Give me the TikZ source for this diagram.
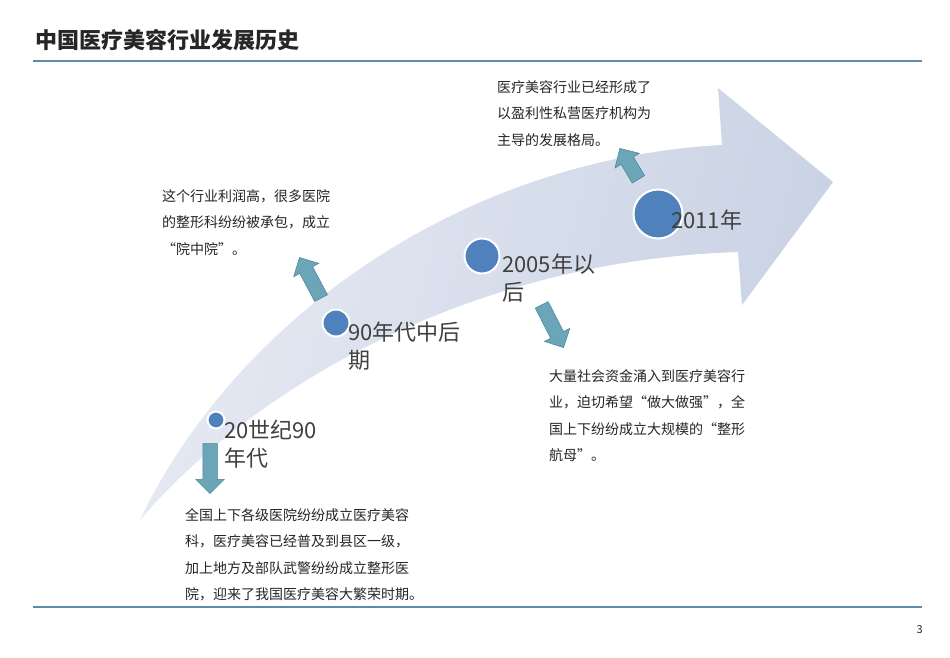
\documentclass[tikz,border=0pt]{standalone}
\usepackage{fontspec}
\setmainfont{Noto Sans CJK SC}
\usetikzlibrary{shapes.arrows}
\definecolor{rule}{HTML}{5E8CA6}
\definecolor{dot}{HTML}{4F81BD}
\definecolor{tealA}{HTML}{6AA5B8}
\definecolor{tealB}{HTML}{4C8398}
\definecolor{txt}{HTML}{262626}
\definecolor{lab}{HTML}{404040}
\definecolor{bandA}{HTML}{E6EAF3}
\definecolor{bandB}{HTML}{C9D2E4}
\begin{document}
\begin{tikzpicture}[x=1pt,y=-1pt,
  desc/.style={anchor=north west,align=left,inner sep=0pt,text=txt,font=\fontsize{14}{26.5}\selectfont},
  lbl/.style={anchor=north west,align=left,inner sep=0pt,text=lab,font=\fontsize{22}{28}\selectfont},
  dotc/.style={circle,fill=dot,draw=white,line width=2pt,inner sep=0pt},
  pointer/.style={single arrow,fill=tealA,draw=tealB,line width=0.5pt,minimum width=28pt,single arrow head extend=7pt,single arrow head indent=0pt,inner xsep=0pt,inner ysep=7pt,single arrow tip angle=90}]
\useasboundingbox (0,0) rectangle (950,658);
\fill[white] (0,0) rectangle (950,658);
% title and rules
\node[anchor=west,inner sep=0pt,text=txt,font=\fontsize{22}{26}\selectfont\bfseries] (title) at (35,40) {中国医疗美容行业发展历史};
\draw[rule,line width=2pt] (33,61) -- (922,61);
\draw[rule,line width=2pt] (33,607) -- (922,607);
\node[anchor=east,inner sep=0pt,font=\fontsize{11}{13}\selectfont,text=txt] (pg) at (923,630) {3};
% big arrow
\shade[left color=bandA,right color=bandB,shading angle=75]
 (140,520) .. controls (230,330) and (450,160) .. (722,145)
 -- (718,88) -- (833,182) -- (742,305) -- (738,252)
 .. controls (480,260) and (260,380) .. (140,520) -- cycle;
% pointers
\node[pointer,minimum height=50pt,rotate=-90] (p1) at (210,465) {};
\node[pointer,minimum height=46pt,rotate=118] (p2) at (312,281) {};
\node[pointer,minimum height=48pt,rotate=-63] (p3) at (551,323) {};
\node[pointer,minimum height=36pt,rotate=121] (p4) at (631,167) {};
% dots
\node[dotc,minimum size=17pt] (c1) at (216,420) {};
\node[dotc,minimum size=27pt] (c2) at (336,323) {};
\node[dotc,minimum size=35pt] (c3) at (482,256) {};
\node[dotc,minimum size=49pt] (c4) at (658,214) {};
% labels
\node[lbl] (l1) at (224,420) {20世纪90\\年代};
\node[lbl] (l2) at (348,322) {90年代中后\\期};
\node[lbl] (l3) at (502,254) {2005年以\\后};
\node[lbl] (l4) at (671,210) {2011年};
% descriptions
\node[desc] (d1) at (162,189) {这个行业利润高，很多医院\\的整形科纷纷被承包，成立\\“院中院”。};
\node[desc] (d2) at (497,80) {医疗美容行业已经形成了\\以盈利性私营医疗机构为\\主导的发展格局。};
\node[desc] (d3) at (549,369) {大量社会资金涌入到医疗美容行\\业，迫切希望“做大做强”，全\\国上下纷纷成立大规模的“整形\\航母”。};
\node[desc] (d4) at (185,508) {全国上下各级医院纷纷成立医疗美容\\科，医疗美容已经普及到县区一级，\\加上地方及部队武警纷纷成立整形医\\院，迎来了我国医疗美容大繁荣时期。};
\end{tikzpicture}
\end{document}
